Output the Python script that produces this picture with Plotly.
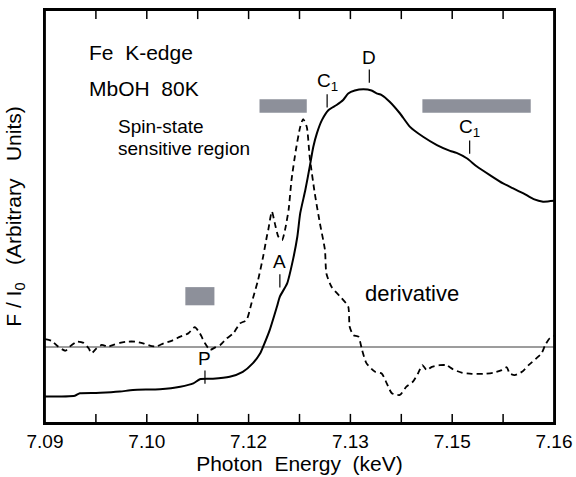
import plotly.graph_objects as go

# ---- data (energy in keV, intensity in arbitrary units) ----
abs_energy = [7.0900, 7.0941, 7.0948, 7.0976, 7.1003, 7.1021, 7.1058, 7.1086, 7.1104, 7.1113,
              7.1131, 7.1154, 7.1172, 7.1186, 7.1196, 7.1200, 7.1209, 7.1219, 7.1223, 7.1233,
              7.1241, 7.1247, 7.1251, 7.1258, 7.1264, 7.1269, 7.1274, 7.1281, 7.1290, 7.1301,
              7.1310, 7.1317, 7.1326, 7.1338, 7.1349, 7.1356, 7.1363, 7.1374, 7.1388, 7.1402,
              7.1420, 7.1439, 7.1457, 7.1466, 7.1480, 7.1494, 7.1512, 7.1530, 7.1544, 7.1558,
              7.1572, 7.1585, 7.1600]
abs_signal = [6.4, 6.6, 7.2, 7.3, 7.6, 8.0, 8.2, 8.8, 9.6, 10.6,
              10.7, 11.2, 12.4, 14.5, 16.9, 18.5, 22.5, 28.2, 30.6, 33.8,
              39.5, 45.1, 50.8, 56.4, 62.0, 66.9, 70.2, 73.4, 75.8, 77.0,
              78.2, 79.8, 80.5, 80.8, 80.5, 79.8, 79.4, 77.8, 75.0, 71.7,
              69.3, 67.3, 65.9, 65.4, 64.1, 62.1, 60.0, 58.0, 56.8, 55.6,
              54.2, 53.6, 53.8]

der_energy = [7.0900, 7.0909, 7.0918, 7.0928, 7.0934, 7.0944, 7.0953, 7.0960, 7.0964, 7.0971,
              7.0978, 7.0987, 7.0994, 7.1003, 7.1012, 7.1024, 7.1035, 7.1047, 7.1054, 7.1063,
              7.1074, 7.1086, 7.1097, 7.1106, 7.1113, 7.1120, 7.1127, 7.1134, 7.1141, 7.1150,
              7.1159, 7.1168, 7.1177, 7.1184, 7.1193, 7.1200, 7.1205, 7.1207, 7.1212, 7.1216,
              7.1221, 7.1226, 7.1230, 7.1235, 7.1239, 7.1245, 7.1251, 7.1255, 7.1260, 7.1264,
              7.1271, 7.1278, 7.1285, 7.1287, 7.1294, 7.1308, 7.1317, 7.1319, 7.1324, 7.1331,
              7.1336, 7.1342, 7.1354, 7.1363, 7.1370, 7.1377, 7.1388, 7.1397, 7.1406, 7.1413,
              7.1419, 7.1425, 7.1432, 7.1443, 7.1452, 7.1461, 7.1473, 7.1487, 7.1503, 7.1517,
              7.1528, 7.1535, 7.1539, 7.1546, 7.1556, 7.1565, 7.1576, 7.1583, 7.1588, 7.1594,
              7.1600]
der_signal = [20.3, 19.9, 18.5, 17.5, 18.5, 19.7, 19.4, 18.1, 16.9, 18.1,
              18.9, 18.5, 18.9, 19.4, 19.7, 19.7, 19.3, 18.6, 18.6, 19.3,
              19.9, 20.9, 21.7, 23.2, 21.7, 19.3, 17.7, 18.3, 18.9, 20.5,
              21.7, 24.1, 24.9, 29.0, 34.6, 40.3, 45.1, 46.7, 51.2, 48.4,
              45.1, 44.3, 46.7, 51.6, 58.8, 66.1, 71.7, 73.6, 71.7, 64.5,
              55.6, 48.4, 41.9, 36.2, 33.0, 30.2, 28.2, 23.3, 21.3, 20.9,
              17.7, 14.5, 12.4, 12.0, 9.6, 7.2, 6.8, 8.8, 10.0, 12.0,
              14.0, 12.8, 13.6, 14.0, 14.0, 13.0, 12.2, 11.9, 11.9, 12.2,
              12.8, 13.5, 12.0, 11.6, 12.4, 14.0, 15.7, 16.9, 18.9, 20.5,
              21.1]
der_zero = 18.4

# spin-state sensitive regions (keV ranges)
region_start = [7.1195, 7.1419, 7.1093]
region_end = [7.1260, 7.1568, 7.1133]
region_low = [75.1, 75.1, 28.5]
region_high = [78.4, 78.4, 32.9]

# feature labels
feat_text = ["P", "A", "C<sub>1</sub>", "D", "C<sub>1</sub>"]
feat_x = [7.1120, 7.1223, 7.1288, 7.1346, 7.1484]
feat_y = [15.7, 39.0, 82.6, 88.6, 71.4]

major_ticks = [7.090, 7.104, 7.118, 7.132, 7.146, 7.160]
major_labels = ["7.09", "7.10", "7.12", "7.13", "7.15", "7.16"]
minor_ticks = [7.097, 7.111, 7.125, 7.139, 7.153]

Y_MIN, Y_MAX = 0, 100
TICK_FRAC = 0.022  # inward tick length as a fraction of the y span

FONT = "Liberation Sans, Arial, Helvetica, sans-serif"
NB = "\u00a0"

fig = go.Figure()
fig.add_trace(go.Scatter(x=[7.09, 7.16], y=[der_zero, der_zero], mode="lines",
                         line=dict(color="#3a3a3a", width=1), hoverinfo="skip", showlegend=False))
fig.add_trace(go.Scatter(x=der_energy, y=der_signal, mode="lines",
                         line=dict(color="black", width=1.8, dash="6px,4px", shape="spline", smoothing=0.6),
                         showlegend=False))
fig.add_trace(go.Scatter(x=abs_energy, y=abs_signal, mode="lines",
                         line=dict(color="black", width=2, shape="spline", smoothing=0.6),
                         showlegend=False))

# inward tick marks on bottom and top edges, as one segmented line trace
tl = TICK_FRAC * (Y_MAX - Y_MIN)
tick_x, tick_y = [], []
for tv in sorted(major_ticks + minor_ticks)[1:-1]:
    tick_x += [tv, tv, None, tv, tv, None]
    tick_y += [Y_MIN, Y_MIN + tl, None, Y_MAX, Y_MAX - tl, None]
fig.add_trace(go.Scatter(x=tick_x, y=tick_y, mode="lines", line=dict(color="black", width=1.5),
                         hoverinfo="skip", showlegend=False, cliponaxis=False))

for x0, x1, y0, y1 in zip(region_start, region_end, region_low, region_high):
    fig.add_shape(type="rect", x0=x0, x1=x1, y0=y0, y1=y1, xref="x", yref="y",
                  fillcolor="#8d909a", line=dict(width=0), layer="below")

# frame around the plotting area
fig.add_shape(type="rect", x0=0, x1=1, y0=0, y1=1, xref="paper", yref="paper",
              line=dict(color="black", width=1.8), fillcolor="rgba(0,0,0,0)", layer="above")

for t, x, y in zip(feat_text, feat_x, feat_y):
    fig.add_annotation(x=x, y=y, text=t, showarrow=False, xanchor="center", yanchor="middle",
                       font=dict(family=FONT, size=19, color="black"))
    fig.add_shape(type="line", x0=x, x1=x, y0=y - 3.0, y1=y - 6.2, xref="x", yref="y",
                  line=dict(color="black", width=1.2))

texts = [("Fe" + NB * 2 + "K-edge", 7.0958, 89.8, 21),
         ("MbOH" + NB * 2 + "80K", 7.0958, 81.1, 21),
         ("Spin-state", 7.0998, 71.7, 19),
         ("sensitive region", 7.0998, 66.5, 19),
         ("derivative", 7.1337, 31.4, 22)]
for t, x, y, s in texts:
    fig.add_annotation(x=x, y=y, text=t, showarrow=False, xanchor="left", yanchor="middle",
                       font=dict(family=FONT, size=s, color="black"))

fig.update_layout(
    width=576, height=477,
    margin=dict(l=45, r=22, t=10, b=54, autoexpand=False),
    paper_bgcolor="white", plot_bgcolor="white",
    font=dict(family=FONT, color="black"),
    xaxis=dict(range=[7.09, 7.16], tickmode="array", tickvals=major_ticks, ticktext=major_labels,
               ticks="", showline=True, linecolor="black", linewidth=1.8, mirror=True,
               showgrid=False, zeroline=False, automargin=False,
               tickfont=dict(family=FONT, size=19),
               title=dict(text="Photon" + NB * 2 + "Energy" + NB * 2 + "(keV)", standoff=6,
                          font=dict(family=FONT, size=21))),
    yaxis=dict(range=[Y_MIN, Y_MAX], showticklabels=False, ticks="",
               showline=True, linecolor="black", linewidth=1.8, mirror=True,
               showgrid=False, zeroline=False, automargin=False,
               title=dict(text="F" + NB + "/" + NB + "I<sub>0</sub>" + NB * 3 + "(Arbitrary" + NB * 3 + "Units)",
                          standoff=16, font=dict(family=FONT, size=21))),
)

fig.write_html("out.html", config={"displayModeBar": False},
               post_script="document.body.style.margin='0';")
